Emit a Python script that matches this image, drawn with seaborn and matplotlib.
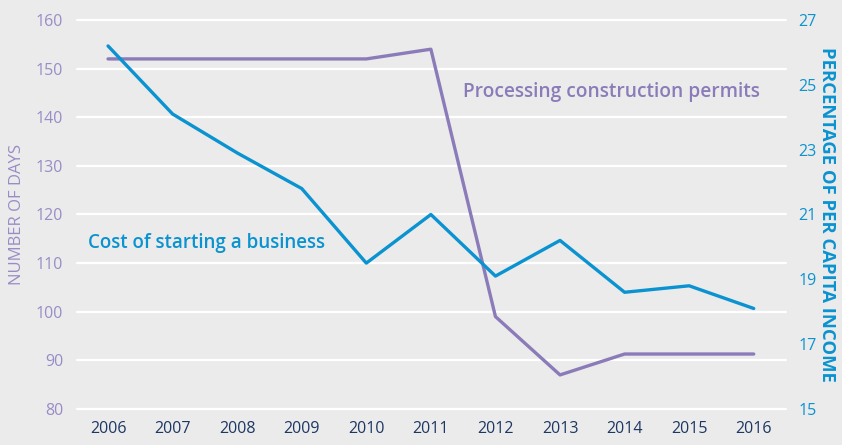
import pandas as pd
import seaborn as sns
import matplotlib.pyplot as plt

years = [2006, 2007, 2008, 2009, 2010, 2011, 2012, 2013, 2014, 2015, 2016]
permit_days = [152, 152, 152, 152, 152, 154, 99, 87, 91.3, 91.3, 91.3]
business_cost = [26.2, 24.1, 22.9, 21.8, 19.5, 21.0, 19.1, 20.2, 18.6, 18.8, 18.1]

left_ticks = [80, 90, 100, 110, 120, 130, 140, 150, 160]
right_ticks = [15, 17, 19, 21, 23, 25, 27]

PURPLE = "#8b7cb9"
PURPLE_TXT = "#9a8cc6"
BLUE = "#0a93d0"
NAVY = "#1d3763"
BG = "#ebebeb"

df = pd.DataFrame({"year": years, "days": permit_days, "cost": business_cost})

sns.set_style("white")
plt.rcParams["font.family"] = ["Open Sans", "DejaVu Sans"]

fig = plt.figure(figsize=(8.42, 4.45), dpi=100, facecolor=BG)
ax = fig.add_axes([0.0915, 0.081, 0.842, 0.874], facecolor=BG)
ax2 = ax.twinx()

# white horizontal guides at the left-axis ticks
for t in left_ticks:
    ax.axhline(t, color="white", lw=1.6, zorder=0.5, clip_on=False)

sns.lineplot(data=df, x="year", y="days", ax=ax, color=PURPLE, lw=2.4, clip_on=False)
sns.lineplot(data=df, x="year", y="cost", ax=ax2, color=BLUE, lw=2.4, clip_on=False)

ax.set_xlim(2005.52, 2016.5)
ax.set_ylim(80, 160)
ax2.set_ylim(15, 27)
ax.set_yticks(left_ticks)
ax2.set_yticks(right_ticks)
ax.set_xticks(years)
ax.set_xticklabels([str(y) for y in years])

ax.grid(False)
ax2.grid(False)
for a in (ax, ax2):
    for s in a.spines.values():
        s.set_visible(False)

ax.tick_params(axis="x", length=0, pad=9, labelsize=11.5, labelcolor=NAVY)
ax.tick_params(axis="y", length=0, pad=10, labelsize=11.5, labelcolor=PURPLE_TXT)
ax2.tick_params(axis="y", length=0, pad=9, labelsize=11.5, labelcolor=BLUE)

ax.set_xlabel("")
ax.set_ylabel("NUMBER OF DAYS", color=PURPLE_TXT, fontsize=12, labelpad=8)
ax2.set_ylabel("PERCENTAGE OF PER CAPITA INCOME", color=BLUE, fontsize=13.3,
               fontweight="bold", rotation=-90, labelpad=14)

ax.text(2005.69, 114.1, "Cost of starting a business", color=BLUE,
        fontsize=13.5, fontweight="semibold", va="center", ha="left")
ax.text(2011.5, 145.2, "Processing construction permits", color=PURPLE,
        fontsize=13.8, fontweight="semibold", va="center", ha="left")

fig.savefig("out.png", dpi=100, facecolor=BG)
